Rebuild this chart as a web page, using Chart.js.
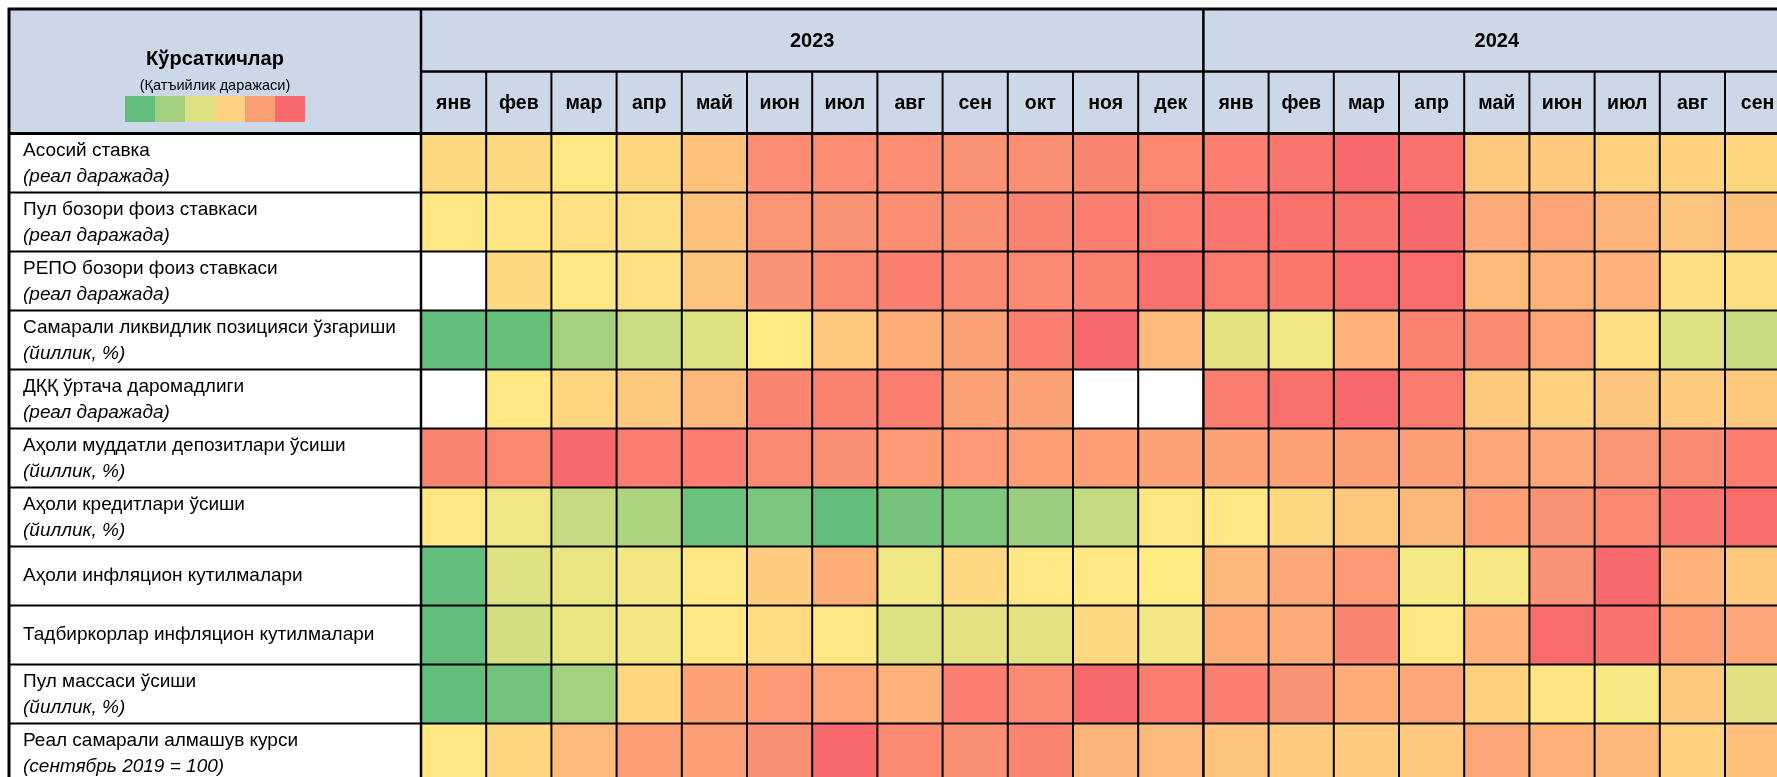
<!DOCTYPE html>
<html>
<head>
<meta charset="utf-8">
<script src="https://cdn.jsdelivr.net/npm/chart.js@4/dist/chart.umd.min.js"></script>
<style>
  html, body { margin: 0; padding: 0; background: #fff; overflow: hidden; }
  canvas { display: block; }
</style>
</head>
<body>
<canvas id="heat" width="1800" height="800"></canvas>
<script>
// columns
const years = ["2023", "2024"];
const months2023 = ["янв", "фев", "мар", "апр", "май", "июн", "июл", "авг", "сен", "окт", "ноя", "дек"];
const months2024 = ["янв", "фев", "мар", "апр", "май", "июн", "июл", "авг", "сен"];

// rows: name + unit line
const indicatorNames = [
  "Асосий ставка",
  "Пул бозори фоиз ставкаси",
  "РЕПО бозори фоиз ставкаси",
  "Самарали ликвидлик позицияси ўзгариши",
  "ДҚҚ ўртача даромадлиги",
  "Аҳоли муддатли депозитлари ўсиши",
  "Аҳоли кредитлари ўсиши",
  "Аҳоли инфляцион кутилмалари",
  "Тадбиркорлар инфляцион кутилмалари",
  "Пул массаси ўсиши",
  "Реал самарали алмашув курси"
];
const indicatorUnits = [
  "(реал даражада)",
  "(реал даражада)",
  "(реал даражада)",
  "(йиллик, %)",
  "(реал даражада)",
  "(йиллик, %)",
  "(йиллик, %)",
  "",
  "",
  "(йиллик, %)",
  "(сентябрь 2019 = 100)"
];

// tightness level, 0 = green ... 50 = yellow ... 100 = red, null = no data
const asosiyStavka   = [57, 57, 51, 58, 66, 86, 86, 86, 84, 85, 89, 88,   91, 95, 100, 97, 63, 63, 60, 60, 58];
const pulBozori      = [51, 52, 54, 55, 66, 83, 84, 86, 85, 90, 91, 92,   95, 96, 96, 100, 75, 77, 71, 65, 67];
const repoBozori     = [null, 57, 51, 54, 65, 84, 87, 91, 87, 87, 90, 97, 93, 94, 99, 99, 69, 72, 72, 55, 55];
const likvidlik      = [0, 1, 21, 33, 39, 50, 63, 74, 78, 91, 100, 69,    41, 45, 72, 90, 87, 77, 55, 39, 32];
const dkkDaromad     = [null, 51, 58, 63, 70, 89, 90, 92, 78, 78, null, null, 92, 97, 100, 93, 63, 60, 65, 62, 64];
const depozitlar     = [89, 88, 100, 92, 92, 87, 85, 81, 81, 80, 80, 78,  78, 78, 79, 79, 76, 76, 83, 87, 92];
const kreditlar      = [51, 45, 31, 24, 3, 8, 0, 6, 9, 18, 31, 51,       51, 57, 64, 70, 80, 84, 88, 95, 99];
const aholiKutilma   = [0, 39, 43, 46, 51, 62, 74, 45, 57, 51, 51, 50,    70, 76, 81, 47, 47, 84, 100, 72, 63];
const tadbirKutilma  = [0, 36, 43, 46, 51, 56, 51, 39, 41, 41, 57, 46,    74, 75, 89, 51, 72, 99, 96, 80, 76];
const pulMassasi     = [0, 5, 21, 58, 78, 81, 77, 72, 91, 87, 100, 92,    91, 84, 74, 76, 60, 52, 47, 63, 40];
const almashuvKursi  = [51, 58, 69, 80, 80, 85, 100, 87, 85, 89, 71, 69,  65, 62, 62, 63, 76, 72, 70, 60, 67];

const rowValues = [asosiyStavka, pulBozori, repoBozori, likvidlik, dkkDaromad, depozitlar,
  kreditlar, aholiKutilma, tadbirKutilma, pulMassasi, almashuvKursi];

const legendColors = ["#63BE7B", "#A3D07F", "#DDE083", "#FED280", "#FA9E75", "#F8696B"];

const FONT = '"Liberation Sans", Arial, sans-serif';
const HEADER_BG = "#CCD7E8";

// Excel style 3 colour scale
const LOW = [99, 190, 123], MID = [255, 235, 132], HIGH = [248, 105, 107];
function heatColor(v) {
  if (v == null) return "#FFFFFF";
  const a = v < 50 ? LOW : MID;
  const b = v < 50 ? MID : HIGH;
  const t = v < 50 ? v / 50 : (v - 50) / 50;
  const c = a.map((x, i) => Math.round(x + (b[i] - x) * t));
  return `rgb(${c[0]},${c[1]},${c[2]})`;
}

const columns = months2023.map((m) => "2023 " + m).concat(months2024.map((m) => "2024 " + m));

const TABLE_LEFT = 9;
const HEADER_TOP = 9;
const HEADER_MID = 71.5;

const tablePlugin = {
  id: "tableFrame",
  beforeDatasetsDraw(chart) {
    const { ctx, chartArea } = chart;
    ctx.save();
    ctx.fillStyle = HEADER_BG;
    ctx.fillRect(TABLE_LEFT, HEADER_TOP, chartArea.right - TABLE_LEFT, chartArea.top - HEADER_TOP);
    ctx.restore();
  },
  afterDatasetsDraw(chart) {
    const { ctx, chartArea } = chart;
    const xs = chart.scales.x, ys = chart.scales.y;
    const colW = xs.getPixelForValue(1) - xs.getPixelForValue(0);
    const colLeft = (i) => xs.getPixelForValue(i) - colW / 2;
    const nRows = rowValues.length;
    const bottom = ys.getPixelForValue(nRows);
    const right = chartArea.right;

    ctx.save();
    ctx.strokeStyle = "#000";
    const line = (x1, y1, x2, y2, w) => {
      ctx.lineWidth = w;
      ctx.beginPath();
      ctx.moveTo(x1, y1);
      ctx.lineTo(x2, y2);
      ctx.stroke();
    };
    // row lines
    for (let r = 1; r < nRows; r++) {
      const y = ys.getPixelForValue(r);
      line(TABLE_LEFT, y, right, y, 2);
    }
    // column lines
    for (let i = 1; i < columns.length; i++) {
      const x = colLeft(i);
      if (i === months2023.length) line(x, HEADER_TOP, x, bottom, 2.5);
      else line(x, HEADER_MID, x, bottom, 2);
    }
    line(chartArea.left, HEADER_MID, right, HEADER_MID, 2.5);
    line(TABLE_LEFT, chartArea.top, right, chartArea.top, 3);
    line(chartArea.left, HEADER_TOP, chartArea.left, bottom, 2.5);
    ctx.lineWidth = 3;
    ctx.strokeRect(TABLE_LEFT, HEADER_TOP, right - TABLE_LEFT, bottom - HEADER_TOP);

    // header texts
    ctx.fillStyle = "#000";
    ctx.textAlign = "center";
    ctx.textBaseline = "middle";
    const labelCx = (TABLE_LEFT + chartArea.left) / 2;
    ctx.font = "bold 20px " + FONT;
    ctx.fillText("Кўрсаткичлар", labelCx, 59);
    ctx.font = "14.5px " + FONT;
    ctx.fillText("(Қатъийлик даражаси)", labelCx, 86);

    // legend swatches
    const sw = 30, sh = 26;
    const sx = labelCx - (legendColors.length * sw) / 2;
    legendColors.forEach((c, i) => {
      ctx.fillStyle = c;
      ctx.fillRect(sx + i * sw, 96, sw, sh);
    });

    ctx.fillStyle = "#000";
    ctx.font = "bold 20px " + FONT;
    const y23 = [colLeft(0), colLeft(months2023.length)];
    const y24 = [colLeft(months2023.length), colLeft(columns.length)];
    ctx.fillText(years[0], (y23[0] + y23[1]) / 2, 41);
    ctx.fillText(years[1], (y24[0] + y24[1]) / 2, 41);
    ctx.font = "bold 19.5px " + FONT;
    columns.forEach((c, i) => {
      ctx.fillText(c.split(" ")[1], xs.getPixelForValue(i), 104);
    });

    // row labels
    ctx.textAlign = "left";
    for (let r = 0; r < nRows; r++) {
      const top = ys.getPixelForValue(r);
      const h = ys.getPixelForValue(r + 1) - top;
      if (indicatorUnits[r]) {
        ctx.font = "19px " + FONT;
        ctx.fillText(indicatorNames[r], 23, top + 17);
        ctx.font = "italic 19px " + FONT;
        ctx.fillText(indicatorUnits[r], 23, top + 43.5);
      } else {
        ctx.font = "19px " + FONT;
        ctx.fillText(indicatorNames[r], 23, top + h / 2);
      }
    }
    ctx.restore();
  }
};

new Chart(document.getElementById("heat"), {
  type: "bar",
  data: {
    labels: columns,
    datasets: rowValues.map((vals, r) => ({
      label: indicatorNames[r],
      data: vals.map(() => 1),
      backgroundColor: vals.map(heatColor),
      borderWidth: 0,
      barPercentage: 1,
      categoryPercentage: 1
    }))
  },
  options: {
    responsive: false,
    animation: false,
    layout: { padding: { left: 421, top: 133.5, right: 9.8, bottom: 17.5 } },
    plugins: { legend: { display: false }, tooltip: { enabled: false } },
    scales: {
      x: { stacked: true, display: false, grid: { display: false } },
      y: { stacked: true, display: false, min: 0, max: 11, reverse: true, grid: { display: false } }
    }
  },
  plugins: [tablePlugin]
});
</script>
</body>
</html>
